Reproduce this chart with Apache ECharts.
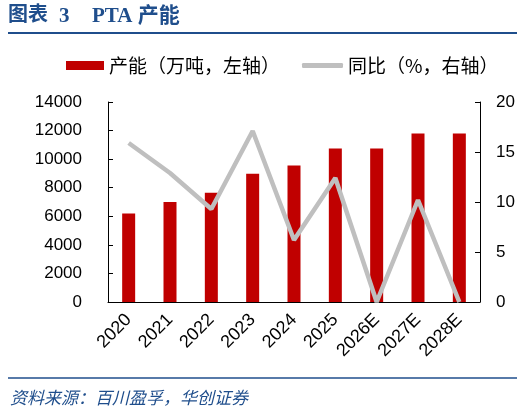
<!DOCTYPE html>
<html><head><meta charset="utf-8">
<script src="https://cdn.jsdelivr.net/npm/echarts@6/dist/echarts.min.js"></script>
<style>html,body{margin:0;padding:0;background:#fff}#c{width:526px;height:416px}</style>
</head><body><div id="c"></div>
<script>
const categories = ['2020','2021','2022','2023','2024','2025','2026E','2027E','2028E'];
const capacity = [6200, 7000, 7650, 8980, 9550, 10750, 10750, 11800, 11800];
const yoy = [15.9, 12.9, 9.3, 17.1, 6.2, 12.4, 0, 10.2, 0];
const leftTicks = [0, 14000, 2000];
const rightTicks = [0, 20, 5];

const chart = echarts.init(document.getElementById('c'));
const blue = '#1f4e8c';
const tFont = '"Liberation Serif","Noto Sans CJK SC"';
chart.setOption({
  animation: false,
  backgroundColor: '#fff',
  graphic: [
    {type: 'text', left: 8, top: 6, style: {text: '图表', fontSize: 20, fontWeight: 'bold', fill: blue, fontFamily: tFont}},
    {type: 'text', left: 59, top: 6, style: {text: '3', fontSize: 21, fontWeight: 'bold', fill: blue, fontFamily: tFont}},
    {type: 'text', left: 92, top: 6, style: {text: 'PTA 产能', fontSize: 21, fontWeight: 'bold', fill: blue, fontFamily: tFont}},
    {type: 'line', shape: {x1: 8, y1: 33, x2: 517, y2: 33}, style: {stroke: blue, lineWidth: 2}},
    {type: 'line', shape: {x1: 8, y1: 378, x2: 517, y2: 378}, style: {stroke: blue, lineWidth: 1.5}},
    {type: 'text', left: 10, top: 389, style: {text: '资料来源：百川盈孚，华创证券', fontSize: 17, fontStyle: 'italic', fill: blue, fontFamily: '"Noto Sans CJK SC"'}}
  ],
  legend: [
    {left: 61, top: 51, itemWidth: 38, itemHeight: 9, itemGap: 6, data: [{name: '产能（万吨，左轴）', icon: 'rect'}],
     textStyle: {fontSize: 19, color: '#000', fontFamily: '"Noto Sans CJK SC"'}},
    {left: 297, top: 51, itemWidth: 41, itemHeight: 5, itemGap: 6, data: [{name: '同比（%，右轴）', icon: 'roundRect'}],
     textStyle: {fontSize: 19, color: '#000', fontFamily: '"Noto Sans CJK SC"'}}
  ],
  grid: {left: 108, right: 46, top: 102, bottom: 114},
  xAxis: {
    type: 'category', data: categories,
    axisLine: {lineStyle: {color: '#000', width: 1}},
    axisTick: {inside: true, length: 5, lineStyle: {color: '#000'}},
    axisLabel: {rotate: 45, fontSize: 18, color: '#000', fontFamily: '"Liberation Sans"', margin: 15, interval: 0}
  },
  yAxis: [
    {type: 'value', min: leftTicks[0], max: leftTicks[1], interval: leftTicks[2],
     axisLine: {show: true, lineStyle: {color: '#000'}},
     axisTick: {show: true, inside: true, length: 5, lineStyle: {color: '#000'}},
     splitLine: {show: false},
     axisLabel: {fontSize: 17, color: '#000', fontFamily: '"Liberation Sans"', margin: 26, formatter: v => String(v)}},
    {type: 'value', min: rightTicks[0], max: rightTicks[1], interval: rightTicks[2],
     axisLine: {show: true, lineStyle: {color: '#000'}},
     axisTick: {show: true, inside: true, length: 5, lineStyle: {color: '#000'}},
     splitLine: {show: false},
     axisLabel: {fontSize: 17, color: '#000', fontFamily: '"Liberation Sans"', margin: 16}}
  ],
  series: [
    {name: '产能（万吨，左轴）', type: 'bar', data: capacity, barWidth: 13, itemStyle: {color: '#c00000'}},
    {name: '同比（%，右轴）', type: 'line', yAxisIndex: 1, data: yoy, symbol: 'none',
     lineStyle: {color: '#bfbfbf', width: 4.5}, itemStyle: {color: '#bfbfbf'}}
  ]
});
</script></body></html>
